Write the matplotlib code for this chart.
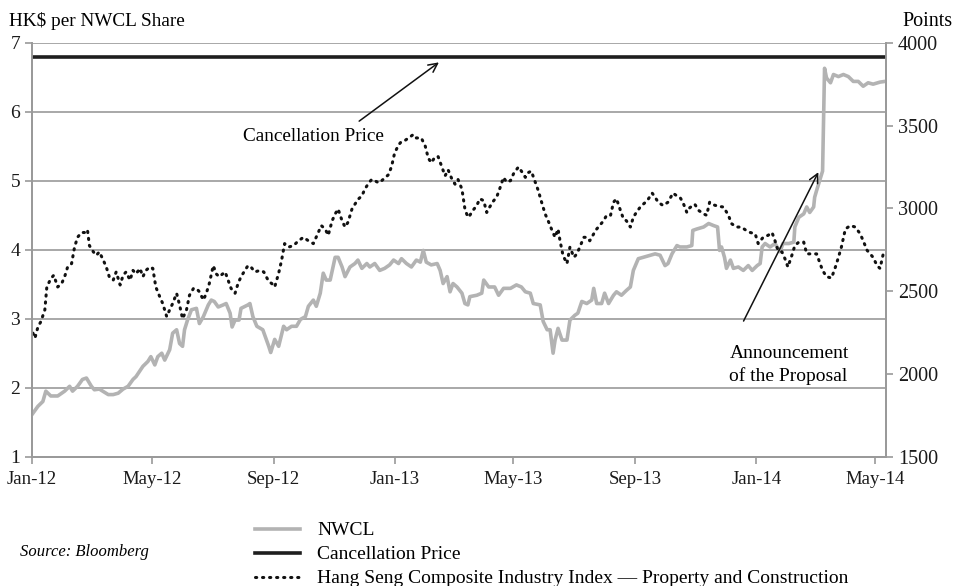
import numpy as np
import pandas as pd
import matplotlib
matplotlib.use('Agg')
import matplotlib.pyplot as plt

# days since 2012-01-01, NWCL share price (HK$)
nwcl_days = [0, 6, 11, 14, 19, 26, 33, 38, 41, 46, 51, 55, 60, 63, 68, 77, 82, 87, 92, 97,
             102, 105, 112, 117, 120, 124, 127, 131, 134, 139, 142, 146, 149, 152, 154, 157, 161, 166, 169, 173,
             178, 181, 184, 188, 193, 196, 200, 202, 205, 209, 211, 218, 220, 223, 227, 233, 239, 241, 245, 249,
             254, 257, 262, 267, 271, 276, 279, 284, 287, 291, 294, 297, 301, 306, 309, 313, 316, 321, 326, 329,
             333, 338, 341, 346, 351, 356, 361, 365, 370, 373, 378, 383, 388, 392, 395, 398, 403, 409, 412, 415,
             419, 422, 425, 429, 434, 437, 440, 442, 449, 454, 456, 461, 467, 471, 476, 483, 489, 494, 498, 503,
             506, 513, 516, 520, 523, 526, 528, 531, 535, 540, 543, 548, 551, 555, 560, 565, 567, 570, 575, 578,
             582, 587, 590, 595, 600, 604, 607, 612, 617, 624, 629, 634, 639, 642, 646, 651, 654, 661, 666, 667,
             671, 678, 683, 688, 692, 694, 696, 699, 701, 705, 708, 713, 718, 723, 727, 732, 735, 737, 740, 745,
             750, 755, 758, 764, 769, 770, 774, 779, 782, 785, 789, 790, 792, 795, 798, 800, 802, 806, 809, 814,
             819, 824, 829, 834, 839, 844, 849, 856, 861]
nwcl_price = [1.61, 1.73, 1.80, 1.95, 1.88, 1.88, 1.95, 2.02, 1.95, 2.02, 2.12, 2.14, 2.02, 1.97, 1.98, 1.90, 1.90, 1.92, 1.98, 2.02,
              2.12, 2.16, 2.31, 2.38, 2.45, 2.33, 2.45, 2.50, 2.40, 2.55, 2.79, 2.84, 2.64, 2.60, 2.84, 2.98, 3.13, 3.15, 2.93, 3.03,
              3.20, 3.27, 3.25, 3.17, 3.20, 3.22, 3.08, 2.88, 2.98, 2.98, 3.15, 3.20, 3.22, 3.03, 2.89, 2.84, 2.60, 2.51, 2.70, 2.60,
              2.89, 2.84, 2.89, 2.89, 2.99, 3.03, 3.18, 3.27, 3.18, 3.37, 3.66, 3.56, 3.56, 3.89, 3.89, 3.75, 3.61, 3.75, 3.80, 3.85,
              3.73, 3.80, 3.75, 3.80, 3.70, 3.73, 3.78, 3.85, 3.80, 3.87, 3.80, 3.75, 3.85, 3.82, 3.99, 3.82, 3.78, 3.80, 3.70, 3.51,
              3.61, 3.39, 3.51, 3.46, 3.37, 3.22, 3.20, 3.32, 3.34, 3.37, 3.56, 3.46, 3.46, 3.34, 3.44, 3.44, 3.49, 3.46, 3.39, 3.37,
              3.22, 3.20, 2.96, 2.84, 2.84, 2.50, 2.69, 2.86, 2.69, 2.69, 2.98, 3.05, 3.08, 3.25, 3.22, 3.27, 3.44, 3.22, 3.22, 3.37,
              3.22, 3.34, 3.39, 3.34, 3.41, 3.46, 3.70, 3.87, 3.89, 3.92, 3.94, 3.92, 3.77, 3.80, 3.94, 4.06, 4.04, 4.04, 4.06, 4.28,
              4.30, 4.33, 4.38, 4.35, 4.33, 3.99, 4.04, 3.89, 3.73, 3.85, 3.73, 3.75, 3.70, 3.77, 3.70, 3.77, 3.80, 4.04, 4.09, 4.04,
              4.09, 3.97, 4.09, 4.09, 4.11, 4.33, 4.47, 4.52, 4.62, 4.54, 4.62, 4.76, 4.86, 5.00, 5.14, 6.63, 6.49, 6.42, 6.54, 6.51,
              6.54, 6.51, 6.44, 6.44, 6.37, 6.42, 6.40, 6.43, 6.44]

# days since 2012-01-01, Hang Seng Composite Industry Index - Property and Construction
hsi_days = [1, 3, 6, 9, 13, 15, 19, 22, 26, 30, 33, 36, 40, 43, 46, 50, 53, 56, 58, 62,
            65, 68, 72, 75, 78, 82, 85, 89, 92, 95, 99, 102, 105, 109, 112, 115, 119, 122, 125, 129,
            132, 136, 139, 142, 146, 149, 152, 156, 159, 163, 166, 169, 173, 176, 179, 183, 186, 189, 195, 198,
            201, 205, 208, 211, 215, 218, 221, 225, 230, 234, 239, 242, 245, 249, 252, 255, 259, 264, 269, 274,
            279, 284, 289, 292, 296, 299, 303, 306, 309, 313, 316, 319, 323, 326, 329, 333, 336, 340, 343, 346,
            350, 353, 356, 360, 363, 366, 370, 373, 377, 380, 385, 388, 393, 397, 400, 403, 407, 410, 414, 417,
            420, 424, 427, 430, 434, 437, 440, 442, 445, 449, 452, 456, 459, 462, 466, 469, 472, 476, 479, 483,
            486, 491, 494, 498, 501, 504, 508, 511, 515, 518, 521, 525, 528, 531, 533, 536, 540, 543, 547, 550,
            553, 557, 560, 563, 567, 570, 573, 577, 580, 584, 587, 590, 594, 597, 600, 604, 607, 610, 614, 617,
            621, 626, 629, 632, 637, 642, 647, 651, 654, 657, 661, 664, 669, 673, 678, 681, 684, 688, 693, 698,
            703, 706, 711, 716, 721, 725, 730, 733, 738, 743, 747, 750, 753, 757, 760, 763, 767, 770, 774, 779,
            782, 787, 792, 795, 798, 802, 807, 811, 814, 817, 821, 826, 831, 836, 839, 843, 846, 849, 853, 856,
            860]
hsi_points = [2246, 2216, 2283, 2316, 2387, 2525, 2575, 2596, 2525, 2546, 2587, 2646, 2666, 2766, 2825, 2854, 2854, 2871, 2775, 2737,
              2716, 2737, 2687, 2646, 2587, 2566, 2616, 2537, 2596, 2616, 2566, 2625, 2604, 2637, 2587, 2625, 2646, 2637, 2525, 2466,
              2425, 2346, 2387, 2425, 2487, 2416, 2333, 2387, 2475, 2516, 2516, 2496, 2446, 2487, 2546, 2654, 2604, 2587, 2616, 2566,
              2516, 2487, 2546, 2587, 2625, 2654, 2646, 2616, 2625, 2616, 2558, 2546, 2525, 2608, 2687, 2787, 2766, 2775, 2804, 2825,
              2804, 2787, 2854, 2896, 2875, 2837, 2925, 2966, 2996, 2925, 2887, 2916, 2996, 3025, 3054, 3075, 3116, 3154, 3175, 3167,
              3154, 3167, 3183, 3204, 3254, 3333, 3383, 3404, 3412, 3425, 3446, 3425, 3425, 3375, 3304, 3275, 3312, 3312, 3246, 3196,
              3233, 3175, 3146, 3175, 3116, 2996, 2946, 2958, 2987, 3017, 3058, 3046, 2975, 3008, 3046, 3067, 3116, 3187, 3158, 3167,
              3208, 3250, 3225, 3187, 3216, 3225, 3158, 3108, 3025, 2966, 2925, 2866, 2825, 2875, 2804, 2716, 2666, 2766, 2704, 2725,
              2766, 2825, 2825, 2804, 2846, 2875, 2896, 2925, 2958, 2958, 3037, 3058, 2987, 2937, 2925, 2887, 2946, 2975, 3008, 3025,
              3046, 3092, 3067, 3037, 3017, 3037, 3092, 3075, 3067, 3037, 2975, 3004, 3025, 2987, 2966, 2958, 3037, 3021, 3012, 3008,
              2958, 2908, 2887, 2887, 2866, 2854, 2846, 2787, 2825, 2837, 2854, 2804, 2746, 2737, 2696, 2646, 2716, 2775, 2796, 2796,
              2725, 2725, 2725, 2675, 2625, 2587, 2579, 2646, 2704, 2766, 2875, 2896, 2887, 2846, 2804, 2746, 2725, 2704, 2654, 2637,
              2746]

cancel_price = 6.8
start = pd.Timestamp('2012-01-01')
end = pd.Timestamp('2014-05-12')
nwcl_dates = start + pd.to_timedelta(nwcl_days, unit='D')
hsi_dates = start + pd.to_timedelta(hsi_days, unit='D')

plt.rcParams['font.family'] = ['Liberation Serif', 'DejaVu Serif']
grey = '#9a9a9a'

fig = plt.figure(figsize=(9.54, 5.86), dpi=100)
ax = fig.add_axes([0.0335, 0.2207, 0.8952, 0.7063])
ax2 = ax.twinx()

ax.set_ylim(1, 7)
ax.set_yticks(range(1, 8))
ax2.set_ylim(1500, 4000)
ax2.set_yticks(range(1500, 4001, 500))
ax.set_xlim(start, end)
xt = pd.date_range('2012-01-01', '2014-05-01', freq='4MS')
ax.set_xticks(xt)
ax.set_xticklabels([d.strftime('%b-%y') for d in xt])

ax.grid(axis='y', color=grey, lw=1.2)
ax.set_axisbelow(True)

l1, = ax.plot(nwcl_dates, nwcl_price, color='#b3b3b3', lw=2.6, label='NWCL', zorder=3)
l2 = ax.axhline(cancel_price, color='#1e1e1e', lw=2.6, label='Cancellation Price', zorder=4)
l3, = ax2.plot(hsi_dates, hsi_points, color='#111111', lw=2.2, linestyle=(0, (0.4, 1.9)),
               dash_capstyle='round', label='Hang Seng Composite Industry Index \u2014 Property and Construction')

for a in (ax, ax2):
    a.spines['top'].set_visible(False)
    for s in ('left', 'right', 'bottom'):
        a.spines[s].set_color(grey)
        a.spines[s].set_linewidth(1.3)
ax.tick_params(axis='both', colors=grey, length=5, width=1.2, labelcolor='#1a1a1a', labelsize=14)
ax.tick_params(axis='x', labelsize=13.5, pad=5)
ax2.tick_params(axis='y', colors=grey, length=5, width=1.2, labelcolor='#1a1a1a', labelsize=14.5)

fig.text(0.009, 0.964, 'HK$ per NWCL Share', fontsize=13.9, ha='left', va='center')
fig.text(0.946, 0.964, 'Points', fontsize=14.5, ha='left', va='center')

# annotations
ax.annotate('', xy=(start + pd.Timedelta(days=413), 6.74), xytext=(start + pd.Timedelta(days=328), 5.84),
            arrowprops=dict(arrowstyle='->', color='#111111', lw=1.1, mutation_scale=16))
ax.text(start + pd.Timedelta(days=284), 5.64, 'Cancellation Price', fontsize=13.9, ha='center', va='center')
ax.annotate('', xy=(start + pd.Timedelta(days=795), 5.16), xytext=(start + pd.Timedelta(days=717), 2.93),
            arrowprops=dict(arrowstyle='->', color='#111111', lw=1.1, mutation_scale=16))
ax.text(start + pd.Timedelta(days=704), 2.62, 'Announcement\nof the Proposal', fontsize=14,
        ha='left', va='top', linespacing=1.4)

fig.legend(handles=[l1, l2, l3], loc='upper left', bbox_to_anchor=(0.259, 0.123),
           frameon=False, fontsize=14, handlelength=2.3, labelspacing=0.33, borderaxespad=0,
           handletextpad=0.9)
fig.text(0.021, 0.058, 'Source: Bloomberg', fontsize=12, style='italic', ha='left', va='center')

fig.savefig('out.png', dpi=100)
